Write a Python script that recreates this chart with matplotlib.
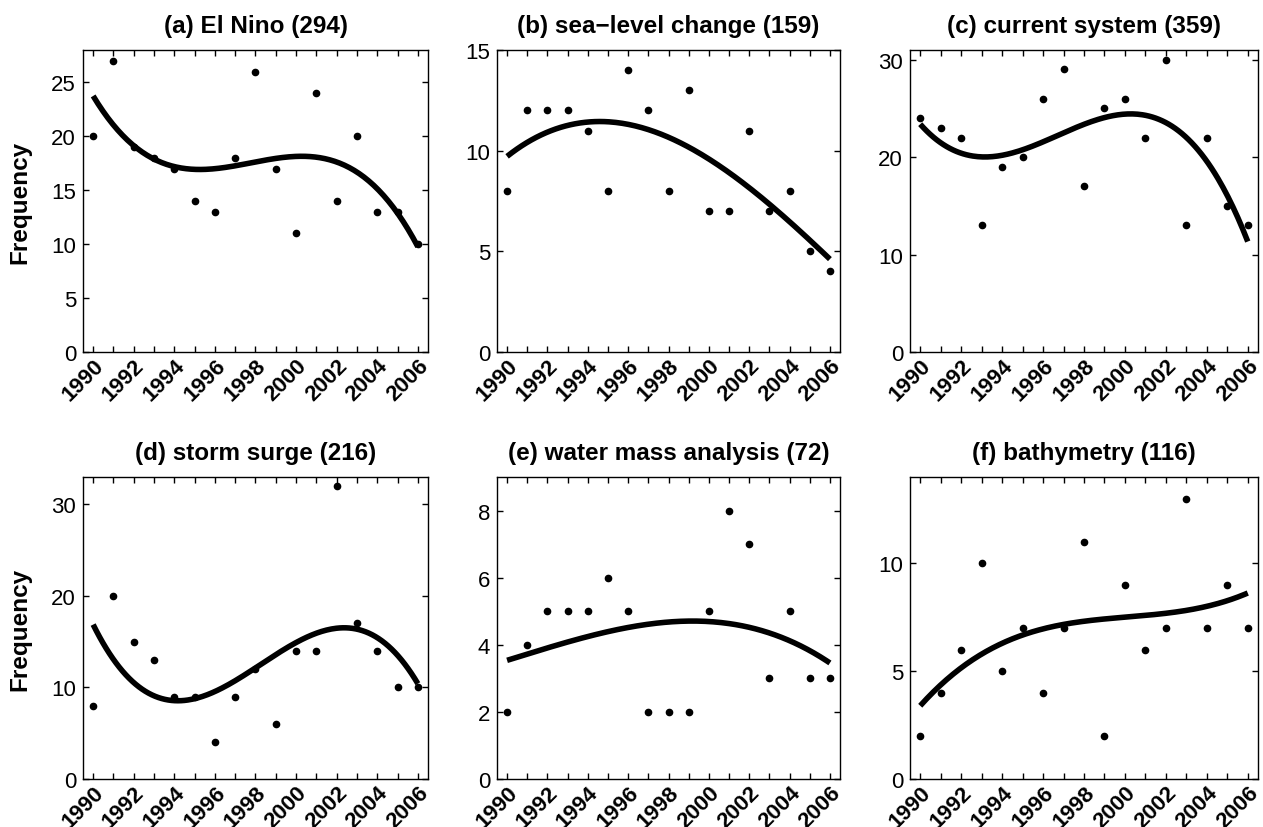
import numpy as np
import matplotlib
matplotlib.use("Agg")
import matplotlib.pyplot as plt

plt.rcParams['font.family'] = ['Liberation Sans', 'DejaVu Sans']

years = list(range(1990, 2007))

el_nino = [20, 27, 19, 18, 17, 14, 13, 18, 26, 17, 11, 24, 14, 20, 13, 13, 10]
sea_level = [8, 12, 12, 12, 11, 8, 14, 12, 8, 13, 7, 7, 11, 7, 8, 5, 4]
current_system = [24, 23, 22, 13, 19, 20, 26, 29, 17, 25, 26, 22, 30, 13, 22, 15, 13]
storm_surge = [8, 20, 15, 13, 9, 9, 4, 9, 12, 6, 14, 14, 32, 17, 14, 10, 10]
water_mass = [2, 4, 5, 5, 5, 6, 5, 2, 2, 2, 5, 8, 7, 3, 5, 3, 3]
bathymetry = [2, 4, 6, 10, 5, 7, 4, 7, 11, 2, 9, 6, 7, 13, 7, 9, 7]

titles = ['(a) El Nino (294)', '(b) sea\u2212level change (159)', '(c) current system (359)',
          '(d) storm surge (216)', '(e) water mass analysis (72)', '(f) bathymetry (116)']
series = [el_nino, sea_level, current_system, storm_surge, water_mass, bathymetry]
ystep = [5, 5, 10, 10, 2, 5]

W, H = 1263, 828
fig = plt.figure(figsize=(W / 100, H / 100), dpi=100)

lefts = [83, 497, 910]
rights = [428, 840, 1258]
tops = [51, 478]
bottoms = [353, 780]

x = np.array(years, dtype=float)
for i, (ttl, y) in enumerate(zip(titles, series)):
    r, c = divmod(i, 3)
    ax = fig.add_axes([lefts[c] / W, 1 - bottoms[r] / H,
                       (rights[c] - lefts[c]) / W, (bottoms[r] - tops[r]) / H])
    y = np.array(y, dtype=float)
    # cubic trend through the yearly counts
    coef = np.polyfit(x - 1998, y, 3)
    xs = np.linspace(1990, 2006, 200)
    ax.plot(xs, np.polyval(coef, xs - 1998), color='black', lw=4, solid_capstyle='butt')
    ax.plot(x, y, 'o', color='black', ms=4.5)
    ax.set_xlim(1989.5, 2006.5)
    ymax = y.max() + 1
    ax.set_ylim(0, ymax)
    ax.set_xticks(years[::2])
    ax.set_xticks(years, minor=True)
    ax.set_xticklabels([str(v) for v in years[::2]], rotation=45, ha='right',
                       rotation_mode='anchor', fontweight='bold', fontsize=16)
    ax.set_yticks(np.arange(0, ymax + 0.01, ystep[i]))
    ax.tick_params(axis='y', labelsize=16, pad=5)
    ax.tick_params(which='both', direction='in', top=True, right=True, length=4, width=1)
    ax.tick_params(axis='x', pad=2)
    for s in ax.spines.values():
        s.set_linewidth(1)
    ax.set_title(ttl, fontsize=17.5, fontweight='bold', pad=13)
    if c == 0:
        ax.set_ylabel('Frequency', fontsize=17.5, fontweight='bold', labelpad=14)

fig.savefig('out.png', dpi=100)
